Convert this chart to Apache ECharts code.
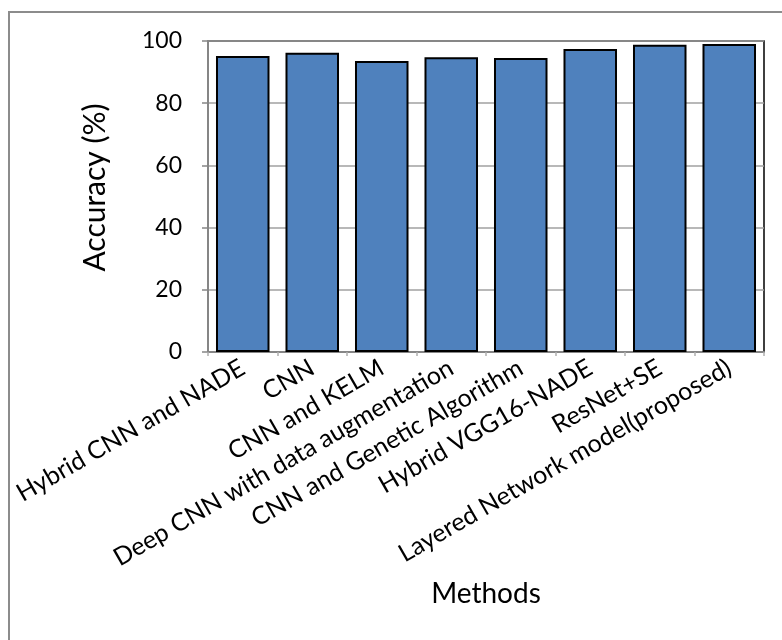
<!DOCTYPE html>
<html>
<head>
<meta charset="utf-8">
<script src="https://cdn.jsdelivr.net/npm/echarts@6/dist/echarts.min.js"></script>
<style>
  html, body { margin: 0; padding: 0; background: #fff; }
  #chart { width: 782px; height: 640px; }
</style>
</head>
<body>
<div id="chart"></div>
<script>
// Methods compared and their reported accuracy (%)
const methods = [
  'Hybrid CNN and NADE',
  'CNN',
  'CNN and KELM',
  'Deep CNN with data augmentation',
  'CNN and Genetic Algorithm',
  'Hybrid VGG16-NADE',
  'ResNet+SE',
  'Layered Network model(proposed)'
];
const accuracy = [95.2, 96.2, 93.6, 94.8, 94.5, 97.4, 98.8, 99.0];
const yTicks = [0, 20, 40, 60, 80, 100];

const FONT = 'Lato, "Open Sans", sans-serif';
const chart = echarts.init(document.getElementById('chart'), null, { renderer: 'canvas' });

chart.setOption({
  backgroundColor: '#ffffff',
  animation: false,
  graphic: [{
    type: 'rect',
    shape: { x: 9, y: 12, width: 820, height: 700 },
    style: { fill: 'none', stroke: '#8c8c8c', lineWidth: 2 },
    silent: true
  }],
  grid: {
    left: 208, right: 18, top: 41, bottom: 288,
    show: true, borderColor: '#000', borderWidth: 1.5, backgroundColor: 'transparent'
  },
  xAxis: {
    type: 'category',
    data: methods,
    name: 'Methods',
    nameLocation: 'middle',
    nameGap: 228,
    nameTextStyle: { fontFamily: FONT, fontSize: 28, color: '#000', verticalAlign: 'top' },
    axisLine: { lineStyle: { color: '#868686', width: 2 } },
    axisTick: { show: true, length: 4, lineStyle: { color: '#b0b0b0', width: 1.5 } },
    axisLabel: {
      interval: 0, rotate: 30, margin: 14,
      fontFamily: FONT, fontSize: 25, color: '#000'
    }
  },
  yAxis: {
    type: 'value',
    min: yTicks[0], max: yTicks[yTicks.length - 1], interval: yTicks[1] - yTicks[0],
    name: 'Accuracy (%)',
    nameLocation: 'middle',
    nameGap: 98,
    nameTextStyle: { fontFamily: FONT, fontSize: 30, color: '#000', padding: [0, 0, 0, 18] },
    axisLine: { show: true, lineStyle: { color: '#868686', width: 2 } },
    axisTick: { show: true, length: 6, lineStyle: { color: '#868686', width: 1.5 } },
    axisLabel: { margin: 26, fontFamily: FONT, fontSize: 23, color: '#000' },
    splitLine: { show: true, lineStyle: { color: '#a0a0a0', width: 1.5 } }
  },
  series: [{
    type: 'bar',
    data: accuracy,
    barCategoryGap: '23%',
    itemStyle: { color: '#4f81bd', borderColor: '#000', borderWidth: 2 }
  }]
});
</script>
</body>
</html>
